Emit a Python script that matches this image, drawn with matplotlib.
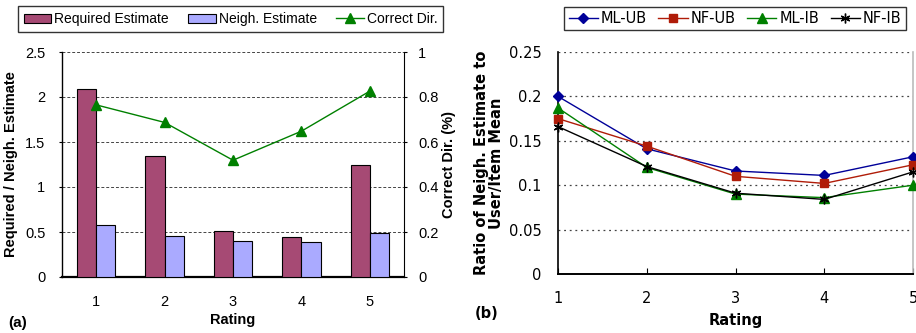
import matplotlib
matplotlib.use("Agg")
import matplotlib.pyplot as plt
import numpy as np
from matplotlib.patches import Patch
from matplotlib.lines import Line2D

# ---- data ----
ratings = [1, 2, 3, 4, 5]
required_est = [2.09, 1.34, 0.51, 0.44, 1.24]
neigh_est = [0.574, 0.456, 0.40, 0.39, 0.49]
correct_dir = [0.765, 0.687, 0.519, 0.648, 0.826]

ml_ub = [0.200, 0.141, 0.116, 0.111, 0.132]
nf_ub = [0.175, 0.144, 0.110, 0.102, 0.123]
ml_ib = [0.187, 0.120, 0.090, 0.086, 0.100]
nf_ib = [0.166, 0.121, 0.091, 0.084, 0.115]

left_yticks = [0, 0.5, 1, 1.5, 2, 2.5]
left_yticklabels = ["0", "0.5", "1", "1.5", "2", "2.5"]
right_yticks = [0, 0.2, 0.4, 0.6, 0.8, 1.0]
right_yticklabels = ["0", "0.2", "0.4", "0.6", "0.8", "1"]
b_yticks = [0, 0.05, 0.1, 0.15, 0.2, 0.25]
b_yticklabels = ["0", "0.05", "0.1", "0.15", "0.2", "0.25"]

W, H = 916, 333
fig = plt.figure(figsize=(W / 100, H / 100), dpi=100)

# ---------------- panel (a) ----------------
fa = "Liberation Sans"
ax = fig.add_axes([62 / W, 1 - 277 / H, 342 / W, 225 / H])
x = np.array(ratings, dtype=float)
bw = 0.28
ax.bar(x - bw / 2, required_est, bw, color="#A64A74", edgecolor="black",
       linewidth=0.8, zorder=3)
ax.bar(x + bw / 2, neigh_est, bw, color="#AAAAFF", edgecolor="black",
       linewidth=0.8, zorder=3)
ax.set_xlim(0.5, 5.5)
ax.set_ylim(0, 2.5)
ax.set_yticks(left_yticks)
ax.set_yticklabels(left_yticklabels, fontfamily=fa, fontsize=10.5)
ax.set_xticks(ratings)
ax.set_xticklabels([str(r) for r in ratings], fontfamily=fa, fontsize=10.5)
ax.tick_params(axis="x", length=0, pad=13)
ax.tick_params(axis="y", length=2, direction="out", pad=10)
for v in left_yticks[1:]:
    ax.axhline(v, color="#444444", linestyle=(0, (3, 2)), linewidth=0.7,
               zorder=1)
ax.spines["top"].set_visible(False)
ax.spines["right"].set_visible(False)
ax.spines["bottom"].set_linewidth(1.6)
ax.spines["left"].set_linewidth(1.0)
ax.set_ylabel("Required / Neigh. Estimate", fontfamily=fa, fontsize=10.5,
              fontweight="bold", labelpad=5)
ax.set_xlabel("Rating", fontfamily=fa, fontsize=10.5, fontweight="bold",
              labelpad=3)

ax2 = ax.twinx()
ax2.plot(ratings, correct_dir, color="#008000", linewidth=1.0, marker="^",
         markersize=6.5, zorder=4)
ax2.set_ylim(0, 1)
ax2.set_yticks(right_yticks)
ax2.set_yticklabels(right_yticklabels, fontfamily=fa, fontsize=10.5)
ax2.tick_params(axis="y", length=2, direction="out", pad=8)
for s in ["top", "left", "bottom"]:
    ax2.spines[s].set_visible(False)
ax2.spines["right"].set_linewidth(0.8)
ax2.set_ylabel("Correct Dir. (%)", fontfamily=fa, fontsize=10.5,
               fontweight="bold", labelpad=3)

handles_a = [
    Patch(facecolor="#A64A74", edgecolor="black", linewidth=0.8,
          label="Required Estimate"),
    Patch(facecolor="#AAAAFF", edgecolor="black", linewidth=0.8,
          label="Neigh. Estimate"),
    Line2D([], [], color="#008000", marker="^", markersize=6.5,
           linewidth=1.0, label="Correct Dir."),
]
leg_a = fig.legend(handles=handles_a, loc="center",
                   bbox_to_anchor=(230.5 / W, 1 - 19 / H), ncol=3,
                   prop={"family": fa, "size": 10}, frameon=True,
                   fancybox=False, edgecolor="black", handlelength=2.0,
                   handleheight=0.6, handletextpad=0.2, columnspacing=1.4,
                   borderpad=0.4)
leg_a.get_frame().set_linewidth(1.0)

fig.text(8 / W, 1 - 323 / H, "(a)", fontfamily=fa, fontsize=11,
         fontweight="bold", va="center", ha="left")

# ---------------- panel (b) ----------------
fb = "DejaVu Sans"
bx = fig.add_axes([558 / W, 1 - 274 / H, 355 / W, 222 / H])
series = [
    (ml_ub, "ML-UB", "#000099", "D", 5),
    (nf_ub, "NF-UB", "#B01C08", "s", 6),
    (ml_ib, "ML-IB", "#008000", "^", 6.5),
    (nf_ib, "NF-IB", "black", (6, 2, 0), 7),
]
for vals, name, col, mk, ms in series:
    bx.plot(ratings, vals, color=col, marker=mk, markersize=ms,
            linewidth=1.0, label=name, clip_on=False, zorder=4,
            markeredgecolor=col)
bx.set_xlim(1, 5)
bx.set_ylim(0, 0.25)
bx.set_yticks(b_yticks)
bx.set_yticklabels(b_yticklabels, fontfamily=fb, fontsize=10.5)
bx.set_xticks(ratings)
bx.set_xticklabels([str(r) for r in ratings], fontfamily=fb, fontsize=10.5)
bx.tick_params(axis="x", length=4, direction="in", pad=12)
bx.tick_params(axis="y", length=0, pad=12)
for v in b_yticks[1:]:
    bx.axhline(v, color="#444444", linestyle=(0, (1.5, 3)), linewidth=0.9,
               zorder=1)
bx.spines["top"].set_visible(False)
bx.spines["right"].set_color("#BBBBBB")
bx.spines["right"].set_linewidth(1.2)
bx.spines["bottom"].set_linewidth(1.4)
bx.spines["left"].set_linewidth(1.2)
bx.set_ylabel("Ratio of Neigh. Estimate to\nUser/Item Mean", fontfamily=fb,
              fontsize=10.5, fontweight="bold", labelpad=3, linespacing=1.0)
bx.set_xlabel("Rating", fontfamily=fb, fontsize=10.5, fontweight="bold",
              labelpad=5)

leg_b = fig.legend(handles=bx.get_lines()[:4], loc="center",
                   bbox_to_anchor=(735 / W, 1 - 18.5 / H), ncol=4,
                   prop={"family": fb, "size": 10.5}, frameon=True,
                   fancybox=False, edgecolor="black", handlelength=2.0,
                   handletextpad=0.2, columnspacing=0.8, borderpad=0.3)
leg_b.get_frame().set_linewidth(1.0)

fig.text(475 / W, 1 - 313 / H, "(b)", fontfamily=fb, fontsize=10.5,
         fontweight="bold", va="center", ha="left")

fig.savefig("out.png", dpi=100)
